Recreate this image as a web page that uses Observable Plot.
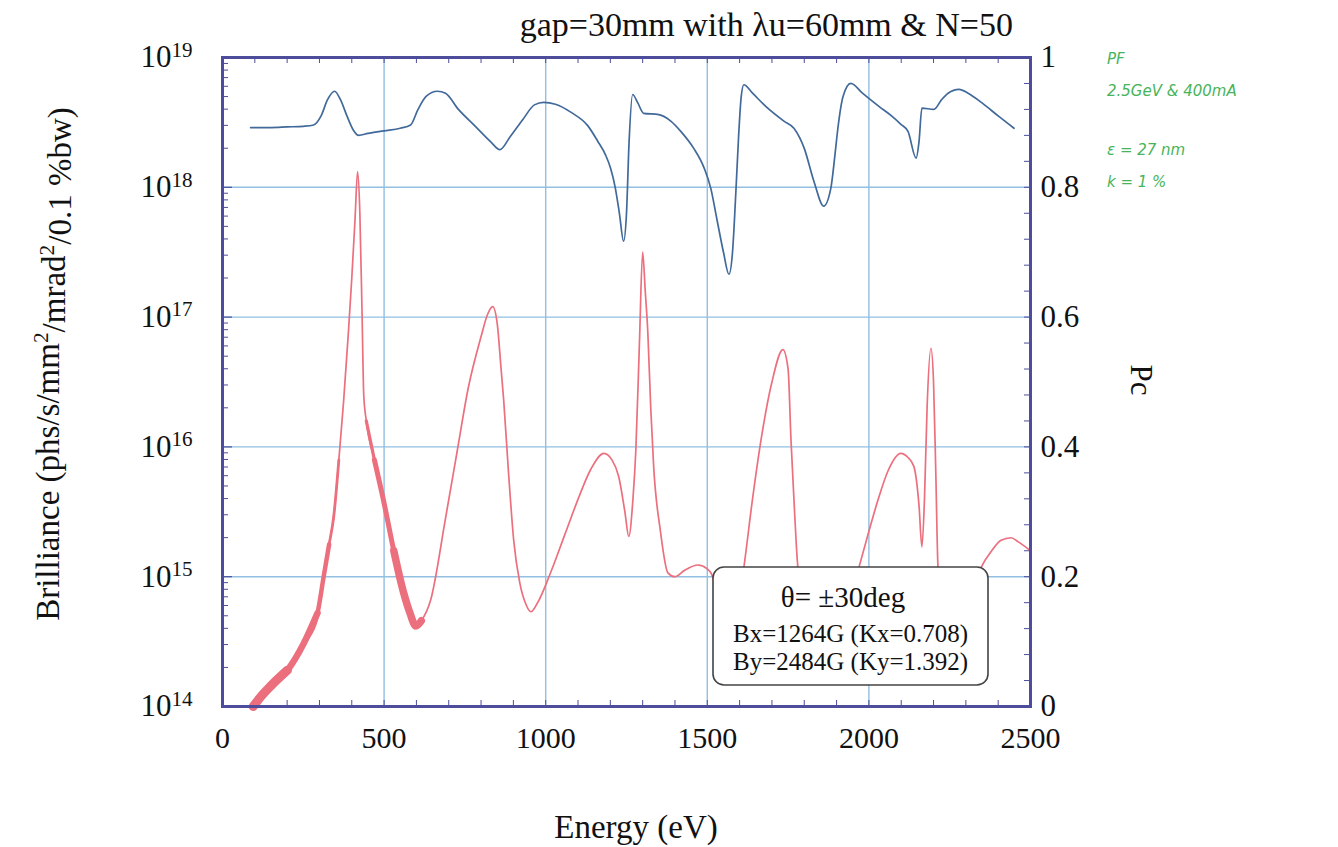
<!DOCTYPE html>
<html><head><meta charset="utf-8">
<script src="https://cdn.jsdelivr.net/npm/d3@7"></script>
<script src="https://cdn.jsdelivr.net/npm/@observablehq/plot@0.6"></script>
<style>
body{margin:0;background:#fff;}
#wrap{position:relative;width:1338px;height:847px;overflow:hidden;}
.note{position:absolute;color:#47b45a;font-family:"DejaVu Sans";font-style:italic;font-size:15px;white-space:nowrap;}
</style></head><body><div id="wrap"></div>
<script>
// Brilliance curve (photon energy in eV, log10 of brilliance)
const energyB = [95,120,150,201,250,294,313,330,344,360,375,390,400,410,418,425,432,437,445,470,498,530,560,580,598,615,644,690,727,760,800,820,836,850,862,870,885,901,920,940,954,975,1015,1060,1099,1140,1180,1205,1226,1245,1257,1270,1279,1290,1300,1308,1316,1325,1334,1355,1378,1400,1430,1471,1500,1511,1540,1565,1590,1613,1640,1666,1700,1734,1750,1759,1770,1780,1820,1870,1930,1969,2000,2028,2060,2099,2120,2139,2155,2164,2172,2180,2192,2200,2207,2214,2250,2300,2347,2380,2409,2440,2461,2500];
const logBrilliance = [14.0,14.08,14.16,14.28,14.48,14.72,15.0,15.25,15.46,15.9,16.36,16.9,17.3,17.75,18.12,17.8,17.0,16.4,16.2,15.9,15.59,15.2,14.88,14.72,14.62,14.66,14.82,15.45,15.98,16.45,16.85,17.02,17.08,16.95,16.6,16.36,15.8,15.28,14.95,14.78,14.73,14.8,15.03,15.33,15.59,15.83,15.95,15.9,15.77,15.5,15.31,15.6,15.98,16.8,17.5,17.2,16.88,16.3,15.85,15.35,15.03,15.0,15.05,15.09,15.06,15.03,14.8,14.55,14.7,15.07,15.6,16.05,16.5,16.75,16.6,16.05,15.5,15.08,14.6,14.4,14.7,15.07,15.35,15.59,15.82,15.95,15.92,15.85,15.55,15.23,15.6,16.3,16.76,16.5,15.8,15.07,14.6,14.7,15.07,15.2,15.28,15.3,15.27,15.2];
// Circular polarization degree Pc (right axis)
const energyPc = [87,150,200,250,282,305,325,347,365,385,405,421,450,500,550,582,605,630,665,690,730,780,830,858,890,930,965,994,1030,1080,1130,1161,1185,1201,1215,1228,1241,1250,1258,1269,1285,1303,1350,1387,1420,1458,1490,1511,1530,1550,1567,1578,1588,1597,1605,1613,1640,1680,1737,1768,1800,1830,1860,1882,1895,1904,1920,1944,1980,2030,2070,2099,2121,2146,2155,2164,2201,2225,2245,2279,2307,2350,2400,2449];
const pcValues = [0.892,0.892,0.893,0.894,0.896,0.91,0.935,0.948,0.935,0.91,0.888,0.88,0.883,0.887,0.891,0.896,0.92,0.94,0.948,0.945,0.92,0.895,0.87,0.858,0.878,0.905,0.927,0.931,0.928,0.915,0.895,0.871,0.85,0.829,0.80,0.76,0.717,0.76,0.87,0.943,0.93,0.914,0.912,0.902,0.885,0.86,0.83,0.798,0.75,0.70,0.666,0.70,0.789,0.88,0.94,0.958,0.945,0.925,0.902,0.891,0.86,0.809,0.771,0.798,0.85,0.891,0.94,0.96,0.945,0.925,0.91,0.897,0.886,0.845,0.87,0.922,0.92,0.935,0.945,0.951,0.945,0.93,0.91,0.891];
const xTicks = [0,500,1000,1500,2000,2500];
const decadeExponents = [14,15,16,17,18,19];
const pcTicks = [0,0.2,0.4,0.6,0.8,1];

const W = 1338, H = 847, mL = 222, mR = 308, mT = 57, mB = 141;
const frameW = W - mL - mR, frameH = H - mT - mB;
const frameColor = "#4d4d9c";
const gridColor = "#92bfe2";
const redColor = "#ec6f7e";
const serif = "Liberation Serif, Times New Roman, serif";

const pcToB = p => Math.pow(10, 14 + 5 * p);
const bData = energyB.map((e, i) => ({E: e, B: Math.pow(10, logBrilliance[i])}));
const pcData = energyPc.map((e, i) => ({E: e, B: pcToB(pcValues[i])}));
const decades = decadeExponents.map(e => Math.pow(10, e));
const minorLog = [];
for (let e = 14; e < 19; e++) for (let m = 2; m <= 9; m++) minorLog.push(m * Math.pow(10, e));
const minorX = d3.range(100, 2500, 100);
const minorPc = d3.range(0.04, 1, 0.04).map(pcToB);
const pcTickB = pcTicks.map(pcToB);

// thick (dense) parts of the brilliance trace, tapering
const thick = (lo, hi, w) => Plot.line(bData.filter(d => d.E >= lo && d.E <= hi),
  {x: "E", y: "B", stroke: redColor, strokeWidth: w, strokeLinecap: "round", curve: "monotone-x"});

const plot = Plot.plot({
  width: W, height: H, marginLeft: mL, marginRight: mR, marginTop: mT, marginBottom: mB,
  x: {domain: [0, 2500]},
  y: {type: "log", domain: [1e14, 1e19]},
  style: {fontFamily: serif, fontSize: "31px", color: "#111", background: "transparent", overflow: "visible"},
  marks: [
    Plot.gridX(xTicks.slice(1, -1), {stroke: gridColor, strokeOpacity: 1, strokeWidth: 1.4}),
    Plot.gridY(decades.slice(1, -1), {stroke: gridColor, strokeOpacity: 1, strokeWidth: 1.4}),
    // inner minor ticks
    Plot.ruleX(minorX, {insetTop: frameH - 6, stroke: frameColor, strokeWidth: 1}),
    Plot.ruleX(minorX, {insetBottom: frameH - 6, stroke: frameColor, strokeWidth: 1}),
    Plot.ruleY(minorLog, {insetRight: frameW - 6, stroke: frameColor, strokeWidth: 1}),
    Plot.ruleY(decades, {insetRight: frameW - 10, stroke: frameColor, strokeWidth: 1.2}),
    Plot.ruleY(minorPc, {insetLeft: frameW - 6, stroke: frameColor, strokeWidth: 1}),
    // brilliance
    Plot.line(bData, {x: "E", y: "B", stroke: redColor, strokeWidth: 1.7, curve: "monotone-x"}),
    thick(95, 201, 9), thick(95, 294, 6.5), thick(95, 330, 4.5), thick(95, 360, 2.8),
    thick(440, 630, 3.2), thick(470, 620, 5), thick(530, 615, 7.5),
    // Pc
    Plot.line(pcData, {x: "E", y: "B", stroke: "#41699a", strokeWidth: 1.7, curve: "monotone-x"}),
    Plot.frame({stroke: frameColor, strokeWidth: 3}),
    Plot.axisX(xTicks, {tickSize: 0, tickPadding: 20, label: null, fontSize: 30, tickFormat: d => String(d)}),
    Plot.axisY(decades, {anchor: "left", tickSize: 0, tickPadding: 30, label: null, fontSize: 31,
      tickFormat: d => "10^" + Math.round(Math.log10(d))}),
    Plot.axisY(pcTickB, {anchor: "right", tickSize: 0, tickPadding: 10, label: null, fontSize: 31,
      tickFormat: d => String(Math.round((Math.log10(d) - 14) / 5 * 10) / 10)})
  ]
});

document.getElementById("wrap").appendChild(plot);
const svg = d3.select(plot);

// superscript exponents on left tick labels
svg.selectAll("text").each(function() {
  const t = this.textContent;
  if (/^10\^\d+$/.test(t)) {
    const exp = t.split("^")[1];
    const s = d3.select(this);
    s.text("10");
    s.append("tspan").attr("dy", "-0.5em").attr("font-size", "0.68em").text(exp);
  }
});

const addText = (x, y, txt, size, anchor) => svg.append("text").attr("x", x).attr("y", y)
  .attr("text-anchor", anchor).attr("font-family", serif).attr("font-size", size).attr("fill", "#111").text(txt);

// title
addText(1013, 36, "gap=30mm with \u03bbu=60mm & N=50", 34, "end");
// x label
addText(636, 838, "Energy (eV)", 33, "middle");

// left y label with superscripts
const yl = svg.append("text").attr("transform", "translate(59,364) rotate(-90)")
  .attr("text-anchor", "middle").attr("font-family", serif).attr("font-size", 33).attr("fill", "#111");
yl.append("tspan").text("Brilliance (phs/s/mm");
yl.append("tspan").attr("dy", "-0.5em").attr("font-size", "0.65em").text("2");
yl.append("tspan").attr("dy", "0.5em").text("/mrad");
yl.append("tspan").attr("dy", "-0.5em").attr("font-size", "0.65em").text("2");
yl.append("tspan").attr("dy", "0.5em").text("/0.1 %bw)");

// right y label
svg.append("text").attr("transform", "translate(1131,380) rotate(90)")
  .attr("text-anchor", "middle").attr("font-family", serif).attr("font-size", 31).attr("fill", "#111")
  .text("Pc");

// annotation box
const box = svg.append("g");
box.append("rect").attr("x", 713).attr("y", 567).attr("width", 275).attr("height", 118)
  .attr("rx", 11).attr("fill", "#fff").attr("stroke", "#444").attr("stroke-width", 1.6);
box.append("text").attr("x", 843).attr("y", 607).attr("text-anchor", "middle")
  .attr("font-family", serif).attr("font-size", 29).attr("fill", "#111").text("\u03b8= \u00b130deg");
box.append("text").attr("x", 733).attr("y", 642).attr("text-anchor", "start")
  .attr("font-family", serif).attr("font-size", 25).attr("fill", "#111").text("Bx=1264G (Kx=0.708)");
box.append("text").attr("x", 733).attr("y", 670).attr("text-anchor", "start")
  .attr("font-family", serif).attr("font-size", 25).attr("fill", "#111").text("By=2484G (Ky=1.392)");

// handwritten notes
const notes = [
  {t: "PF", x: 1107, y: 50},
  {t: "2.5GeV & 400mA", x: 1107, y: 82},
  {t: "\u03b5 = 27 nm", x: 1107, y: 141},
  {t: "k = 1 %", x: 1107, y: 173}
];
const wrap = document.getElementById("wrap");
for (const n of notes) {
  const d = document.createElement("div");
  d.className = "note";
  d.style.left = n.x + "px"; d.style.top = n.y + "px";
  d.textContent = n.t;
  wrap.appendChild(d);
}
</script>
</body></html>
